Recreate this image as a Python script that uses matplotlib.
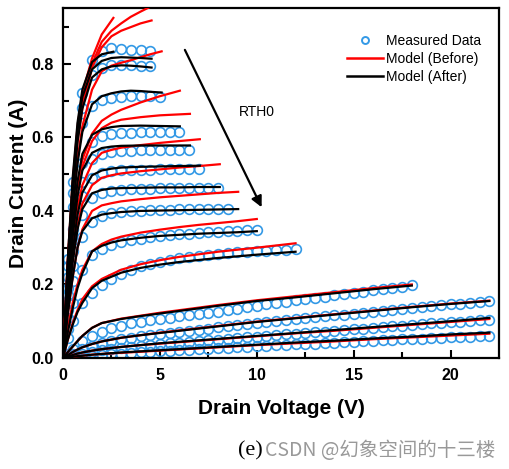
import numpy as np
import matplotlib.pyplot as plt
from matplotlib.lines import Line2D

plt.rcParams['font.family'] = ['Liberation Sans', 'DejaVu Sans']

# model curves: drain voltage grid for each gate step
model_v = [
    [0, 0.25, 0.5, 0.75, 1, 1.5, 2, 2.6],
    [0, 0.25, 0.5, 0.75, 1, 1.5, 2, 2.5, 3, 3.5, 4, 4.57],
    [0, 0.25, 0.5, 0.75, 1, 1.5, 2, 2.5, 3, 3.5, 4, 4.57],
    [0, 0.25, 0.5, 0.75, 1, 1.5, 2, 2.5, 3, 3.5, 4, 4.5, 5.09],
    [0, 0.25, 0.5, 0.75, 1, 1.5, 2, 2.5, 3, 4, 5, 6.03],
    [0, 0.25, 0.5, 0.75, 1, 1.5, 2, 2.5, 3, 4, 5, 6.55],
    [0, 0.25, 0.5, 0.75, 1, 1.5, 2, 2.5, 3, 4, 5, 6, 7.06],
    [0, 0.25, 0.5, 0.75, 1, 1.5, 2, 2.5, 3, 4, 5, 6, 7, 8.09],
    [0, 0.25, 0.5, 0.75, 1, 1.5, 2, 2.5, 3, 4, 5, 6, 7, 8, 9.04],
    [0, 0.25, 0.5, 0.75, 1, 1.5, 2, 2.5, 3, 4, 5, 6, 7, 8, 9, 10],
    [0, 0.25, 0.5, 0.75, 1, 1.5, 2, 3, 4, 5, 6, 8, 10, 12],
    [0, 0.25, 0.5, 0.75, 1, 1.5, 2, 3, 4, 5, 6, 8, 10, 12, 14, 16, 18],
    [0, 0.25, 0.5, 0.75, 1, 1.5, 2, 3, 4, 5, 6, 8, 10, 12, 14, 16, 18, 20, 22],
    [0, 0.25, 0.5, 0.75, 1, 1.5, 2, 3, 4, 5, 6, 8, 10, 12, 14, 16, 18, 20, 22],
    [0, 0.25, 0.5, 0.75, 1, 1.5, 2, 3, 4, 5, 6, 8, 10, 12, 14, 16, 18, 20, 22],
]

# Model (Before) - red
before_i = [
    [0, 0.27, 0.48, 0.63, 0.72, 0.815, 0.88, 0.925],
    [0, 0.26, 0.46, 0.6, 0.69, 0.8, 0.86, 0.89, 0.91, 0.928, 0.942, 0.957],
    [0, 0.25, 0.45, 0.59, 0.68, 0.79, 0.845, 0.875, 0.89, 0.9, 0.91, 0.918],
    [0, 0.23, 0.41, 0.54, 0.63, 0.73, 0.78, 0.795, 0.803, 0.81, 0.818, 0.826, 0.834],
    [0, 0.2, 0.36, 0.47, 0.54, 0.61, 0.645, 0.662, 0.675, 0.695, 0.712, 0.727],
    [0, 0.19, 0.34, 0.45, 0.52, 0.59, 0.625, 0.64, 0.648, 0.655, 0.66, 0.664],
    [0, 0.17, 0.31, 0.41, 0.47, 0.53, 0.558, 0.566, 0.572, 0.579, 0.585, 0.59, 0.595],
    [0, 0.15, 0.27, 0.36, 0.42, 0.47, 0.49, 0.497, 0.502, 0.508, 0.513, 0.518, 0.522, 0.527],
    [0, 0.12, 0.22, 0.3, 0.35, 0.4, 0.415, 0.421, 0.426, 0.432, 0.437, 0.441, 0.445, 0.449, 0.452],
    [0, 0.08, 0.15, 0.2, 0.24, 0.29, 0.31, 0.322, 0.33, 0.341, 0.349, 0.356, 0.362, 0.367, 0.372, 0.378],
    [0, 0.05, 0.095, 0.13, 0.16, 0.195, 0.215, 0.24, 0.255, 0.266, 0.275, 0.289, 0.3, 0.312],
    [0, 0.016, 0.031, 0.046, 0.06, 0.082, 0.095, 0.107, 0.115, 0.123, 0.13, 0.144, 0.157, 0.168, 0.179, 0.19, 0.2],
    [0, 0.008, 0.016, 0.023, 0.029, 0.038, 0.045, 0.055, 0.062, 0.069, 0.075, 0.087, 0.099, 0.109, 0.119, 0.129, 0.139, 0.148, 0.156],
    [0, 0.004, 0.008, 0.012, 0.015, 0.02, 0.024, 0.03, 0.035, 0.039, 0.043, 0.051, 0.059, 0.067, 0.074, 0.082, 0.09, 0.098, 0.106],
    [0, 0.002, 0.003, 0.005, 0.006, 0.009, 0.011, 0.014, 0.017, 0.02, 0.023, 0.029, 0.035, 0.04, 0.045, 0.051, 0.056, 0.061, 0.066],
]

# Model (After) - black
after_i = [
    [0, 0.27, 0.49, 0.64, 0.73, 0.805, 0.826, 0.833],
    [0, 0.26, 0.47, 0.62, 0.71, 0.785, 0.808, 0.816, 0.818, 0.817, 0.816, 0.814],
    [0, 0.242, 0.444, 0.588, 0.678, 0.763, 0.785, 0.793, 0.796, 0.795, 0.793, 0.79],
    [0, 0.22, 0.4, 0.53, 0.615, 0.69, 0.712, 0.72, 0.725, 0.727, 0.726, 0.724, 0.722],
    [0, 0.2, 0.36, 0.48, 0.555, 0.607, 0.622, 0.628, 0.631, 0.632, 0.631, 0.63],
    [0, 0.18, 0.33, 0.44, 0.51, 0.558, 0.571, 0.575, 0.577, 0.578, 0.578, 0.578],
    [0, 0.16, 0.29, 0.39, 0.45, 0.497, 0.51, 0.515, 0.518, 0.52, 0.521, 0.522, 0.523],
    [0, 0.14, 0.26, 0.35, 0.405, 0.448, 0.457, 0.461, 0.462, 0.463, 0.464, 0.464, 0.465, 0.465],
    [0, 0.12, 0.22, 0.3, 0.345, 0.38, 0.39, 0.394, 0.397, 0.4, 0.401, 0.402, 0.403, 0.404, 0.405],
    [0, 0.07, 0.135, 0.19, 0.23, 0.29, 0.305, 0.314, 0.32, 0.327, 0.332, 0.335, 0.338, 0.34, 0.342, 0.345],
    [0, 0.05, 0.09, 0.125, 0.15, 0.19, 0.21, 0.232, 0.245, 0.254, 0.261, 0.272, 0.281, 0.289],
    [0, 0.016, 0.031, 0.046, 0.06, 0.082, 0.095, 0.106, 0.114, 0.121, 0.128, 0.142, 0.155, 0.165, 0.176, 0.187, 0.197],
    [0, 0.008, 0.016, 0.023, 0.029, 0.038, 0.045, 0.055, 0.062, 0.068, 0.074, 0.086, 0.098, 0.108, 0.118, 0.128, 0.138, 0.147, 0.155],
    [0, 0.004, 0.008, 0.012, 0.015, 0.02, 0.024, 0.03, 0.035, 0.04, 0.044, 0.052, 0.06, 0.068, 0.076, 0.084, 0.092, 0.1, 0.109],
    [0, 0.002, 0.003, 0.005, 0.006, 0.009, 0.011, 0.015, 0.018, 0.021, 0.024, 0.03, 0.036, 0.042, 0.047, 0.053, 0.058, 0.064, 0.069],
]

# Measured data, first point at 0.25 V then every 0.5 V
meas_i = [
    [0.27, 0.48, 0.72, 0.81, 0.835, 0.842, 0.84, 0.838, 0.837, 0.836],
    [0.25, 0.45, 0.68, 0.77, 0.79, 0.797, 0.797, 0.796, 0.795, 0.795],
    [0.22, 0.41, 0.64, 0.685, 0.702, 0.708, 0.711, 0.712, 0.712, 0.712, 0.711],
    [0.19, 0.35, 0.53, 0.588, 0.604, 0.61, 0.612, 0.613, 0.614, 0.614, 0.614, 0.614, 0.614],
    [0.17, 0.32, 0.48, 0.54, 0.555, 0.561, 0.563, 0.564, 0.565, 0.565, 0.566, 0.566, 0.566, 0.566],
    [0.15, 0.29, 0.44, 0.49, 0.503, 0.508, 0.51, 0.511, 0.512, 0.512, 0.513, 0.513, 0.513, 0.513, 0.513],
    [0.13, 0.25, 0.39, 0.435, 0.448, 0.454, 0.457, 0.459, 0.46, 0.46, 0.461, 0.461, 0.461, 0.461, 0.461,
     0.461, 0.461],
    [0.11, 0.21, 0.33, 0.37, 0.387, 0.394, 0.398, 0.4, 0.401, 0.402, 0.403, 0.403, 0.404, 0.404, 0.404,
     0.405, 0.405, 0.405],
    [0.08, 0.15, 0.24, 0.28, 0.297, 0.308, 0.315, 0.32, 0.324, 0.328, 0.331, 0.334, 0.336, 0.338, 0.34,
     0.342, 0.344, 0.345, 0.346, 0.347, 0.348],
    [0.055, 0.1, 0.15, 0.178, 0.198, 0.214, 0.228, 0.24, 0.249, 0.256, 0.262, 0.267, 0.271, 0.275, 0.278,
     0.281, 0.283, 0.285, 0.287, 0.289, 0.29, 0.292, 0.293, 0.295, 0.296],
    [0.012, 0.025, 0.045, 0.06, 0.072, 0.081, 0.088, 0.094, 0.099, 0.103, 0.107, 0.11, 0.113, 0.116, 0.119,
     0.122, 0.126, 0.13, 0.134, 0.138, 0.142, 0.146, 0.15, 0.153, 0.157, 0.16, 0.164, 0.167, 0.17, 0.174,
     0.177, 0.18, 0.184, 0.187, 0.19, 0.194, 0.198],
    [0.006, 0.012, 0.024, 0.033, 0.04, 0.046, 0.051, 0.055, 0.059, 0.062, 0.065, 0.068, 0.071, 0.074, 0.077,
     0.08, 0.083, 0.086, 0.089, 0.092, 0.095, 0.098, 0.1, 0.103, 0.106, 0.108, 0.111, 0.113, 0.116, 0.118,
     0.121, 0.123, 0.126, 0.128, 0.131, 0.133, 0.136, 0.138, 0.141, 0.143, 0.146, 0.148, 0.15, 0.153, 0.155],
    [0.003, 0.006, 0.012, 0.017, 0.021, 0.025, 0.028, 0.031, 0.033, 0.036, 0.038, 0.04, 0.042, 0.044, 0.046,
     0.048, 0.05, 0.052, 0.054, 0.056, 0.058, 0.06, 0.062, 0.064, 0.066, 0.068, 0.07, 0.072, 0.074, 0.076,
     0.078, 0.08, 0.082, 0.084, 0.086, 0.088, 0.09, 0.092, 0.094, 0.096, 0.097, 0.099, 0.1, 0.102, 0.103],
    [0.001, 0.002, 0.004, 0.006, 0.008, 0.01, 0.012, 0.013, 0.015, 0.016, 0.018, 0.019, 0.021, 0.022, 0.024,
     0.025, 0.026, 0.028, 0.029, 0.03, 0.032, 0.033, 0.034, 0.036, 0.037, 0.038, 0.039, 0.041, 0.042, 0.043,
     0.044, 0.046, 0.047, 0.048, 0.049, 0.051, 0.052, 0.053, 0.054, 0.055, 0.056, 0.057, 0.058, 0.059, 0.06],
]

blue = '#3399e6'

fig = plt.figure(figsize=(5.1, 4.69), dpi=100)
ax = fig.add_axes([0.1235, 0.2367, 0.855, 0.7463])

for ii in meas_i:
    vv = [0.25] + [0.5 * k for k in range(1, len(ii))]
    ax.plot(vv, ii, 'o', mfc='none', mec=blue, ms=7, mew=1.2, zorder=2)
for vv, ii in zip(model_v, before_i):
    ax.plot(vv, ii, color='red', lw=1.6, zorder=3)
for vv, ii in zip(model_v, after_i):
    ax.plot(vv, ii, color='black', lw=1.6, zorder=4)

ax.annotate('', xy=(10.25, 0.41), xytext=(6.29, 0.838),
            arrowprops=dict(arrowstyle='-|>', color='black', lw=1.6,
                            mutation_scale=16, shrinkA=0, shrinkB=0))
ax.text(9.09, 0.67, 'RTH0', fontsize=10, va='center', ha='left')

ax.set_xlim(0, 22.5)
ax.set_ylim(0, 0.952)
ax.set_xticks([0, 5, 10, 15, 20])
ax.set_xticks([2.5, 7.5, 12.5, 17.5], minor=True)
ax.set_yticks([0, 0.2, 0.4, 0.6, 0.8])
ax.set_yticks([0.1, 0.3, 0.5, 0.7, 0.9], minor=True)
ax.set_yticklabels(['0.0', '0.2', '0.4', '0.6', '0.8'])
ax.tick_params(which='both', direction='in', width=1.5, labelsize=11.5)
ax.tick_params(which='major', length=6, pad=7)
ax.tick_params(which='minor', length=4)
for lab in ax.get_xticklabels() + ax.get_yticklabels():
    lab.set_fontweight('bold')
for sp in ax.spines.values():
    sp.set_linewidth(1.6)

ax.set_xlabel('Drain Voltage (V)', fontsize=15, fontweight='bold', labelpad=12)
ax.set_ylabel('Drain Current (A)', fontsize=15, fontweight='bold', labelpad=2)

handles = [Line2D([], [], ls='none', marker='o', mfc='none', mec=blue, ms=5, mew=1.4),
           Line2D([], [], color='red', lw=1.8),
           Line2D([], [], color='black', lw=1.8)]
ax.legend(handles, ['Measured Data', 'Model (Before)', 'Model (After)'],
          loc='upper left', bbox_to_anchor=(0.651, 0.927), frameon=False,
          fontsize=10, handlelength=2.6, handletextpad=0.25, labelspacing=0.3,
          borderpad=0, borderaxespad=0)

fig.text(0.467, 0.038, '(e)', fontsize=16, family='Liberation Serif', va='center')
fig.text(0.52, 0.040, 'CSDN @幻象空间的十三楼', fontsize=14, color='#999999',
         family=['Noto Sans CJK SC', 'DejaVu Sans'], va='center')

plt.savefig('out.png', dpi=100)
